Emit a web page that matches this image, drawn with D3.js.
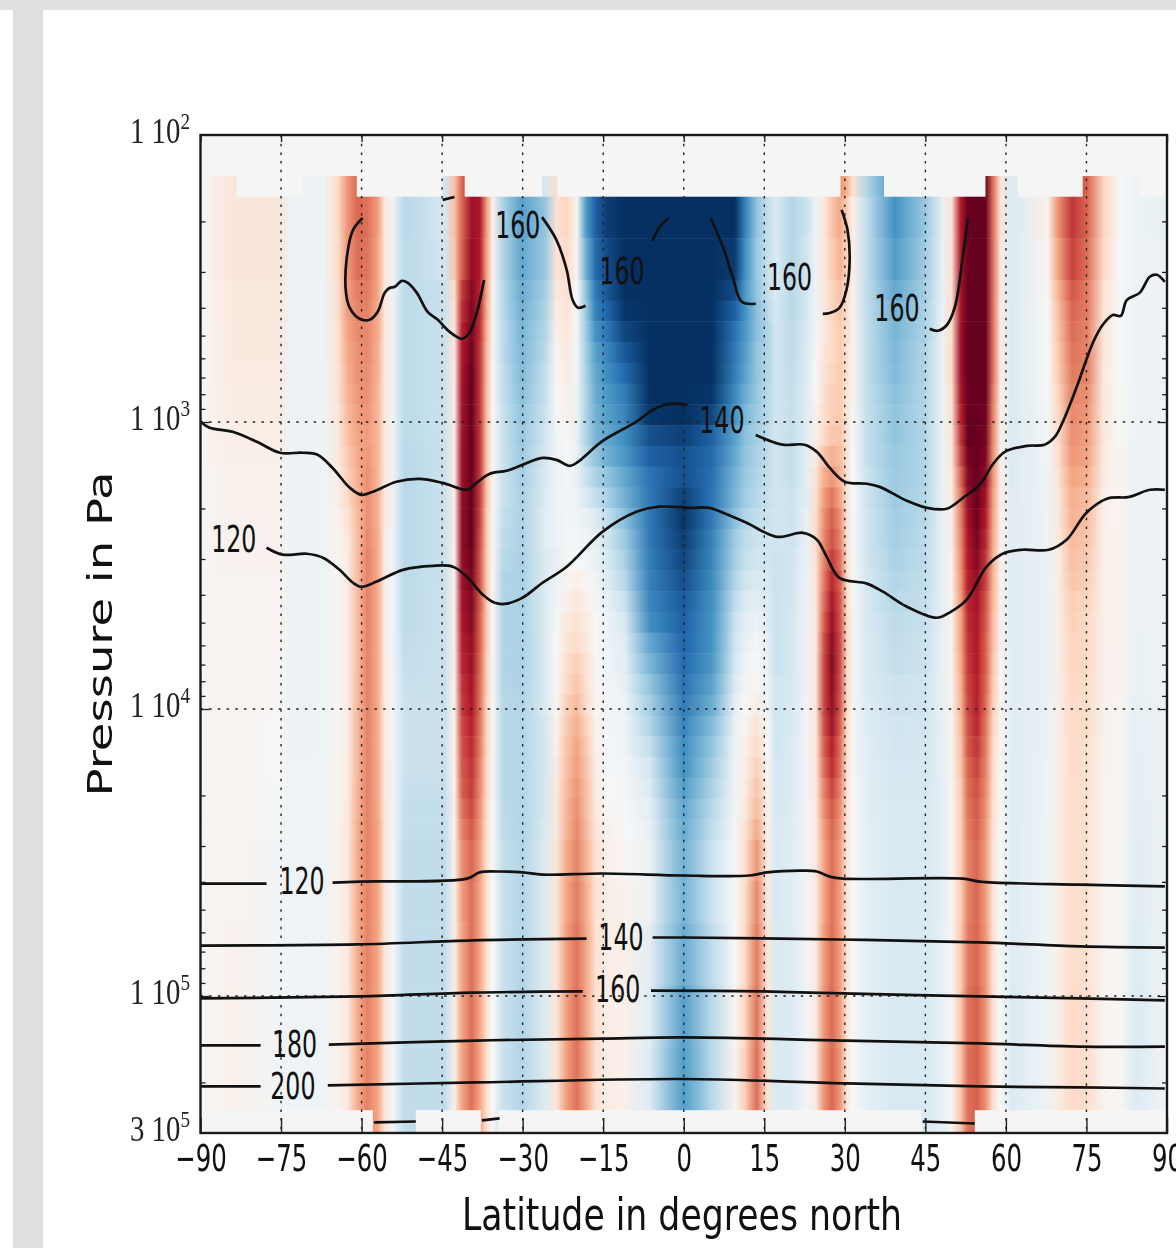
<!DOCTYPE html>
<html>
<head>
<meta charset="utf-8">
<script src="https://cdn.jsdelivr.net/npm/d3@7"></script>
<style>
  body { margin: 0; background: #fff; overflow: hidden; }
  svg { display: block; filter: blur(0.7px); }
  .sans { font-family: "DejaVu Sans", sans-serif; fill: #111; }
  .serif { font-family: "Liberation Serif", serif; fill: #222; }
</style>
</head>
<body>
<div id="chart"></div>
<script>
// latitude of each value in a row, degrees north
var heatLats = [-90,-87.9,-83.6,-75.6,-73,-66.9,-64.4,-62.6,-60.7,-58.9,-57,-55.7,-54.2,-52,-44.5,-42.7,-41.3,-39.5,-38,-36.7,-35.6,-33.7,-30.2,
  -25.9,-23.7,-21.8,-19.9,-18.1,-16.4,-14.3,-11,-6.3,0,5.2,9.5,11.4,13.6,15.6,17.1,
  20.1,22.9,24.6,26.1,27.6,29.1,30.4,31.5,34.1,39.3,44.9,48.2,49.9,51.6,52.9,54.6,56.2,57.6,59,61.1,67.8,69.7,72.3,75.2,78.2,81.2,84,90];

// log10 of pressure at the edges of the rows
var heatEdges = [2.143,2.215,2.360,2.505,2.577,2.649,2.721,2.794,2.866,2.938,3.011,3.083,3.155,3.228,3.300,3.372,3.444,3.517,3.589,3.661,3.734,3.806,3.878,3.950,4.023,4.095,4.167,4.240,4.312,4.384,4.456,4.601,4.746,4.962,5.179,5.396,5.477];

// zonal wind anomaly, -100 to 100, one row per pressure band
var heatRows = [
[0,6,12,12,-6,-5,20,45,58,55,42,12,-5,-28,-18,30,58,85,82,42,5,-32,-55, -18,18,22,2,-58,-82,-95,-100,-100,-100,-100,-100,-68,-40,-25,-15, -30,-22,-5,10,28,45,35,15,-30,-60,-38,-8,15,80,100,100,100,55,12,-15,5,45,72,58,22,0,-6,-8],
[0,6,12,12,-6,-5,20,45,58,55,42,12,-5,-28,-18,30,58,85,82,42,5,-32,-55, -40,15,22,2,-58,-82,-95,-100,-100,-100,-100,-100,-68,-40,-25,-15, -30,-22,-5,10,28,38,25,5,-25,-60,-38,-8,15,80,100,100,100,55,12,-15,5,45,72,58,22,0,-6,-8],
[0,6,12,12,-6,-5,20,44,56,54,40,12,-5,-27,-20,28,60,88,80,40,4,-30,-52, -38,14,20,2,-50,-78,-90,-100,-100,-100,-100,-96,-62,-38,-24,-14, -30,-20,-5,10,25,35,22,5,-25,-56,-36,-8,15,82,100,100,100,55,10,-15,3,40,68,55,20,0,-6,-7],
[0,5,11,11,-6,-5,18,42,52,52,40,12,-5,-27,-22,20,70,92,78,38,3,-28,-50, -35,10,16,0,-42,-72,-85,-100,-100,-100,-100,-90,-58,-40,-25,-16, -28,-18,-4,10,22,30,20,4,-25,-52,-34,-7,16,84,100,100,100,55,10,-15,2,34,62,52,16,0,-6,-6],
[0,5,11,11,-6,-5,18,42,50,50,38,12,-5,-27,-22,16,74,94,76,36,2,-28,-48, -32,8,14,0,-40,-68,-80,-98,-100,-100,-100,-82,-60,-42,-28,-18, -28,-18,-4,10,22,28,18,4,-25,-48,-32,-7,18,84,100,100,100,55,8,-15,1,30,58,52,14,0,-6,-5],
[0,5,10,10,-6,-5,16,40,48,48,38,12,-5,-27,-22,14,78,96,74,34,2,-26,-46, -30,5,12,-2,-38,-60,-72,-92,-100,-100,-100,-75,-58,-42,-30,-20, -26,-16,-3,10,20,26,18,3,-25,-46,-32,-6,18,85,100,100,100,55,8,-15,0,28,56,50,12,0,-6,-5],
[0,5,10,10,-6,-5,16,38,46,48,36,12,-5,-27,-22,12,80,98,72,32,2,-26,-45, -28,3,10,-2,-36,-55,-66,-85,-100,-100,-100,-72,-56,-40,-30,-20, -26,-15,-2,12,20,26,16,3,-25,-45,-30,-6,20,85,100,100,100,55,8,-15,0,26,54,50,12,0,-6,-5],
[0,5,9,9,-6,-5,14,36,46,46,36,12,-5,-27,-22,10,82,100,72,32,2,-24,-44, -25,2,8,-4,-34,-52,-62,-78,-100,-100,-100,-70,-54,-40,-30,-20, -25,-14,0,14,22,26,16,2,-25,-44,-30,-6,20,85,100,100,100,55,8,-15,0,25,52,50,10,0,-6,-5],
[0,4,8,8,-6,-5,14,34,44,46,34,10,-5,-27,-22,10,84,100,72,30,2,-24,-42, -24,0,6,-5,-32,-50,-58,-70,-100,-100,-98,-65,-50,-38,-28,-20, -24,-13,2,16,24,26,14,2,-24,-42,-30,-6,18,82,100,100,100,52,6,-14,-1,22,50,46,10,1,-6,-5],
[0,4,8,8,-6,-5,12,32,42,44,34,10,-5,-27,-22,8,84,100,72,30,1,-22,-40, -22,-2,4,-6,-32,-48,-55,-66,-98,-100,-92,-60,-46,-36,-28,-20, -24,-12,4,18,24,26,14,1,-24,-40,-30,-6,16,78,100,100,98,50,6,-14,-2,20,48,44,10,1,-6,-5],
[0,4,7,7,-6,-5,10,30,40,42,34,10,-5,-27,-22,8,84,100,72,28,1,-22,-38, -20,-4,2,-8,-32,-46,-52,-62,-88,-94,-82,-55,-42,-34,-26,-20, -24,-12,6,20,28,28,14,1,-24,-40,-30,-6,14,72,100,100,96,48,6,-14,-2,18,46,42,10,1,-6,-5],
[0,4,6,6,-6,-5,10,26,38,44,34,10,-4,-28,-22,8,86,100,72,28,1,-22,-36, -18,-5,0,-8,-28,-40,-48,-58,-82,-88,-78,-52,-40,-32,-26,-20, -24,-11,10,28,36,32,14,0,-24,-38,-30,-7,12,66,96,100,94,46,6,-14,-3,16,44,40,8,2,-6,-5],
[0,3,5,5,-6,-5,8,24,36,46,34,10,-4,-28,-22,8,86,100,72,28,1,-22,-34, -16,-6,-2,-8,-22,-32,-40,-52,-74,-88,-76,-48,-38,-30,-25,-20, -24,-10,14,36,44,34,14,0,-22,-37,-30,-7,10,58,92,100,90,44,5,-13,-4,14,40,36,8,2,-6,-5],
[0,3,5,5,-6,-5,6,20,34,46,36,10,-4,-28,-22,8,88,100,70,28,1,-22,-32, -14,-5,-3,-6,-16,-24,-32,-48,-72,-94,-74,-46,-35,-28,-24,-20, -22,-10,16,42,54,40,14,0,-21,-36,-29,-8,9,52,88,100,84,42,5,-12,-5,11,36,32,6,2,-6,-5],
[0,3,4,4,-6,-5,4,14,32,46,36,10,-4,-28,-22,8,88,100,68,26,1,-24,-32, -12,-5,-2,-4,-8,-14,-24,-42,-72,-98,-72,-42,-30,-25,-22,-20, -22,-8,18,46,60,46,15,-1,-20,-35,-28,-8,8,50,85,98,80,40,5,-12,-6,10,35,30,6,2,-6,-5],
[0,3,4,4,-6,-5,3,10,32,48,38,8,-4,-28,-22,8,88,100,66,26,1,-26,-32, -12,-6,-2,-2,-5,-10,-20,-36,-72,-95,-68,-36,-26,-22,-20,-20, -21,-8,18,48,64,50,16,-2,-20,-34,-27,-8,7,48,82,95,76,38,5,-12,-6,9,32,28,6,3,-6,-5],
[0,3,4,4,-6,-5,3,8,32,50,38,8,-4,-28,-22,6,88,98,64,26,1,-28,-32, -14,-8,-2,0,-3,-8,-16,-32,-70,-92,-66,-34,-24,-20,-20,-22, -20,-7,16,50,70,55,17,-2,-19,-32,-26,-8,6,46,80,92,72,36,5,-12,-7,8,30,26,6,3,-6,-5],
[0,3,3,3,-6,-5,2,8,32,50,38,8,-4,-27,-22,6,86,96,64,26,1,-30,-32, -14,-6,2,6,2,-4,-12,-28,-68,-88,-64,-30,-20,-15,-16,-22, -20,-6,14,52,76,60,18,-2,-18,-30,-25,-8,6,44,78,88,68,34,4,-12,-7,7,28,24,6,3,-6,-6],
[0,3,3,3,-6,-5,2,8,32,50,38,8,-4,-26,-22,6,84,94,62,26,1,-30,-32, -14,-4,6,12,5,-2,-8,-22,-66,-84,-62,-26,-15,-10,-14,-22, -19,-5,13,56,82,62,19,-2,-17,-28,-24,-8,5,42,76,84,64,32,4,-12,-8,7,25,22,6,3,-6,-6],
[0,3,3,3,-6,-5,2,8,32,50,38,8,-4,-26,-22,6,82,92,60,26,1,-30,-32, -14,-2,10,16,8,0,-6,-16,-62,-82,-60,-22,-10,-6,-12,-22, -18,-5,12,60,86,64,20,-2,-16,-26,-23,-8,5,40,74,82,62,30,4,-12,-8,6,24,20,6,3,-6,-6],
[0,3,3,3,-6,-5,2,8,32,50,38,8,-4,-25,-22,6,78,88,60,26,1,-30,-32, -15,0,14,18,10,0,-5,-12,-52,-80,-60,-20,-8,-2,-10,-22, -18,-4,12,64,90,66,20,-2,-15,-25,-22,-8,5,40,72,80,60,30,4,-12,-8,6,22,20,6,3,-7,-6],
[0,3,3,2,-6,-5,2,8,32,50,38,8,-4,-24,-22,6,76,86,58,24,1,-30,-32, -16,0,18,24,14,2,-4,-10,-46,-78,-58,-18,-6,0,-8,-22, -18,-4,12,66,92,66,20,-2,-15,-24,-22,-8,5,38,70,80,60,28,3,-12,-8,6,22,20,5,3,-7,-6],
[-1,3,3,1,-6,-5,2,8,33,50,38,8,-3,-23,-22,6,72,84,56,24,1,-29,-31, -16,2,20,28,16,2,-3,-8,-40,-74,-54,-14,-3,3,-6,-20, -17,-4,12,66,90,64,20,-2,-14,-22,-20,-8,4,36,68,78,58,26,3,-12,-8,6,21,19,5,3,-7,-6],
[-1,3,3,1,-6,-5,2,8,33,50,38,9,-3,-22,-22,6,70,82,55,22,1,-28,-30, -16,2,24,32,18,3,-2,-6,-34,-70,-50,-10,0,8,-5,-20, -16,-4,12,66,88,62,20,-2,-13,-21,-20,-8,4,34,66,78,56,24,3,-12,-7,6,20,18,5,2,-8,-6],
[-1,3,3,0,-6,-5,2,8,34,50,38,9,-3,-22,-22,6,66,78,54,22,1,-28,-30, -18,4,26,36,22,4,-2,-5,-30,-66,-44,-8,2,14,-2,-20, -16,-4,12,64,84,60,18,-1,-13,-20,-19,-9,3,32,64,76,54,22,2,-12,-7,6,20,18,4,2,-9,-6],
[-1,3,3,0,-6,-5,2,8,34,50,38,9,-3,-22,-22,6,64,75,52,22,1,-28,-30, -18,6,28,40,26,5,-2,-4,-24,-62,-40,-6,4,20,0,-20, -15,-3,12,60,78,56,17,-1,-12,-19,-18,-9,3,30,62,72,52,20,2,-12,-7,6,19,17,4,2,-9,-6],
[-1,3,3,0,-5,-5,3,8,34,50,38,10,-3,-22,-22,6,62,72,50,20,1,-28,-30, -18,8,30,42,28,6,-1,-3,-18,-60,-36,-5,6,24,2,-18, -14,-3,11,56,74,54,16,-1,-12,-18,-18,-9,3,28,58,68,50,18,1,-12,-6,6,19,16,4,2,-10,-6],
[-1,3,3,-1,-5,-5,3,9,35,50,38,10,-3,-23,-23,6,60,70,48,20,1,-28,-30, -18,10,32,44,30,8,0,-2,-14,-56,-32,-4,8,28,3,-18, -14,-3,11,50,68,50,15,-1,-11,-17,-17,-10,2,26,56,64,48,17,1,-12,-6,6,18,16,3,1,-10,-6],
[-2,3,3,-2,-5,-4,3,9,36,50,39,11,-2,-24,-24,6,54,66,46,18,1,-27,-30, -18,10,34,46,30,10,2,-1,-10,-52,-28,-3,10,32,5,-18, -13,-3,10,46,62,46,14,0,-11,-16,-16,-10,2,25,54,62,46,16,1,-12,-6,6,18,15,3,1,-11,-6],
[-2,3,3,-2,-5,-4,4,10,37,50,40,12,-2,-24,-24,6,50,62,44,17,0,-26,-30, -16,10,35,48,32,12,4,0,-8,-50,-25,-2,14,38,6,-16, -13,-3,10,42,58,44,13,0,-10,-16,-16,-10,2,25,52,60,44,15,0,-12,-5,6,18,15,3,1,-11,-6],
[-2,2,3,-3,-5,-4,4,10,38,50,40,12,-2,-25,-25,6,46,58,42,16,0,-24,-30, -14,12,38,50,34,14,6,2,-6,-48,-22,-1,16,44,8,-16, -12,-3,10,40,56,42,12,0,-10,-16,-16,-10,2,25,50,58,42,15,0,-12,-5,6,18,15,3,1,-12,-6],
[-2,2,3,-3,-5,-4,4,10,38,50,40,12,-2,-25,-25,6,42,56,40,15,0,-22,-30, -14,12,40,52,36,15,8,4,-6,-47,-22,0,18,48,10,-16, -12,-3,10,40,55,42,12,0,-10,-16,-16,-10,2,25,50,58,42,15,0,-12,-5,6,18,15,3,1,-12,-6],
[-2,2,4,-3,-5,-4,4,10,38,50,40,12,-2,-25,-25,6,40,56,40,15,0,-22,-30, -14,12,42,54,38,15,8,5,-10,-50,-26,0,20,52,12,-16, -13,-3,10,42,56,42,12,0,-10,-16,-16,-9,2,26,52,58,44,15,0,-13,-5,6,18,15,3,1,-13,-6],
[-2,2,5,-3,-5,-4,4,10,38,50,40,12,-2,-25,-25,6,40,56,40,15,0,-22,-30, -14,12,42,55,38,15,8,5,-12,-55,-28,2,22,54,12,-15, -14,-3,10,44,57,43,12,0,-10,-16,-16,-9,2,27,54,60,45,16,0,-14,-5,6,20,17,3,1,-14,-5],
[-2,2,5,-3,-5,-4,4,10,38,50,40,12,-2,-25,-25,6,40,56,40,15,0,-22,-30, -14,12,42,55,38,15,8,5,-14,-56,-28,3,24,56,14,-15, -14,-3,10,45,58,44,12,0,-10,-16,-16,-9,2,28,55,60,46,16,0,-14,-5,8,20,18,3,1,-14,-4],
[-2,2,5,-3,-5,-4,4,10,38,50,40,12,-2,-25,-25,6,40,56,40,15,0,-22,-30, -14,12,42,55,38,15,8,5,-14,-56,-28,3,24,56,14,-15, -14,-3,10,45,58,44,12,0,-10,-16,-16,-9,2,28,55,60,46,16,0,-14,-5,8,20,18,3,1,-14,-4]
];

// where the top and bottom bands actually hold values
var topFilled = [[-88.8,-83.3],[-71,-60.9],[-44.9,-40.8],[-26.3,-23.5],[29.2,37.3],[56.2,62.2],[74.3,84.9]];
var bottomFilled = [[-57.9,-49.9],[-37.8,-34.5],[44.3,54.2]];

var rdbu = ["#053061","#2166ac","#4393c3","#92c5de","#d1e5f0","#f7f7f7","#fddbc7","#f4a582","#d6604d","#b2182b","#67001f"];
var rdbuStops = [-100,-80,-60,-40,-20,0,20,40,60,80,100];

var latTicks = [-90,-75,-60,-45,-30,-15,0,15,30,45,60,75,90];
var pressureTicks = [100,1000,10000,100000,300000];
var tickMantissa = ["1","1","1","1","3"];
var tickExponent = ["2","3","4","5","5"];
var minorTicks = [200,300,400,500,600,700,800,900,2000,3000,4000,5000,6000,7000,8000,9000,20000,30000,40000,50000,60000,70000,80000,90000,200000];
var gridPressures = [1000,10000,100000];

// temperature contours, [latitude, log10 pressure]
var contours = [
  [[-59.8,2.289],[-61.6,2.331],[-62.8,2.435],[-62.9,2.550],[-62.2,2.602],[-60.3,2.641],[-58.5,2.644],[-57,2.616],[-55.7,2.550],[-54.8,2.533],[-53.8,2.529],[-52.5,2.508],[-51.4,2.515],[-49.7,2.550],[-47.7,2.616],[-45.8,2.644],[-43.6,2.686],[-41.3,2.710],[-39.9,2.689],[-38.4,2.609],[-37.2,2.505]],
  [[-44.9,2.226],[-42.7,2.216]],
  [[-26.4,2.286],[-23.7,2.366],[-21.8,2.470],[-20.7,2.575],[-19.7,2.602],[-18.3,2.595]],
  [[-5.8,2.369],[-4.5,2.320],[-2.8,2.289]],
  [[5,2.289],[7.3,2.390],[9.1,2.494],[10.8,2.581],[13.4,2.588]],
  [[29.4,2.261],[30.5,2.331],[30.9,2.435],[30.3,2.540],[29,2.602],[27.2,2.620],[25.9,2.623]],
  [[52.9,2.289],[51.9,2.435],[50.5,2.599],[49,2.662],[47.3,2.682],[45.8,2.675]],
  [[-90,2.999],[-88.3,3.020],[-84,3.034],[-79.5,3.069],[-75.2,3.107],[-71,3.107],[-68.2,3.114],[-65.4,3.160],[-62.2,3.229],[-60,3.254],[-57.9,3.243],[-53.5,3.208],[-49.2,3.198],[-44.9,3.212],[-40.2,3.236],[-38.6,3.212],[-36.1,3.180],[-33,3.170],[-30,3.149],[-26.3,3.125],[-23.7,3.132],[-21.2,3.153],[-19.7,3.139],[-15.1,3.066],[-8.8,2.999],[-5.8,2.958],[-2.6,2.937],[0.7,2.940]],
  [[13.4,3.045],[18.4,3.079],[22.5,3.079],[24.8,3.104],[27.2,3.160],[30,3.208],[34.1,3.215],[36.5,3.226],[41.5,3.274],[45.3,3.299],[49,3.302],[52,3.264],[55.1,3.219],[57.5,3.149],[59.8,3.104],[63.9,3.083],[67.2,3.079],[69.1,3.052],[70.6,2.999],[73.2,2.877],[76.2,2.724],[78,2.662],[79.9,2.627],[81.4,2.630],[82.5,2.575],[84.9,2.550],[86.8,2.494],[88.1,2.487],[89.6,2.512]],
  [[-77.7,3.438],[-74.7,3.462],[-70.2,3.459],[-67.2,3.473],[-64.1,3.515],[-61.6,3.560],[-60,3.574],[-57.2,3.556],[-52.3,3.515],[-46.7,3.501],[-43,3.504],[-40.4,3.539],[-37.4,3.602],[-35.2,3.630],[-33,3.633],[-30,3.612],[-26.3,3.560],[-21.8,3.504],[-15.1,3.382],[-8.8,3.313],[-4.5,3.295],[1.1,3.299],[4.8,3.299],[7.3,3.316],[11.7,3.351],[17.3,3.400],[22.2,3.386],[24.8,3.410],[26.6,3.469],[29,3.543],[34.1,3.563],[37.1,3.591],[41.5,3.643],[47.1,3.682],[49.5,3.664],[52.7,3.619],[56.4,3.504],[59.4,3.459],[63,3.445],[68,3.445],[71.3,3.410],[75,3.316],[78.8,3.267],[83,3.261],[86.8,3.236],[89.6,3.236]],
  [[-90,4.608],[-77.7,4.608]],
  [[-65.4,4.605],[-60.3,4.601],[-40.4,4.591],[-38,4.569],[-34.8,4.566],[-30,4.569],[-26.3,4.577],[-15.1,4.573],[0,4.580],[12.3,4.580],[15.5,4.569],[22.2,4.563],[24.8,4.566],[27.2,4.584],[29.6,4.591],[52,4.591],[55.1,4.601],[73.8,4.612],[89.6,4.618]],
  [[-90,4.824],[-60.9,4.820],[-39.3,4.806],[-18.1,4.800]],
  [[-5.8,4.796],[0,4.796],[29,4.803],[55.1,4.813],[73.8,4.827],[89.6,4.831]],
  [[-90,5.008],[-60.3,5.001],[-39.3,4.988],[-18.8,4.984]],
  [[-6.1,4.981],[14.7,4.984],[29.6,4.991],[55.1,5.001],[73.8,5.008],[89.6,5.015]],
  [[-90,5.172],[-78.8,5.172]],
  [[-66.1,5.169],[-38.6,5.155],[-15.3,5.148],[0,5.144],[29.6,5.155],[55.1,5.165],[73.8,5.176],[89.6,5.176]],
  [[-90,5.315],[-78.8,5.315]],
  [[-66.3,5.311],[-38.6,5.301],[0,5.289],[29.6,5.304],[55.1,5.315],[73.8,5.318],[89.6,5.322]],
  [[-57.7,5.440],[-49.9,5.437]],
  [[-37.6,5.433],[-34.3,5.426]],
  [[44.5,5.437],[54.2,5.444]]
];

var contourLabelText = ["160","160","160","160","140","120","120","140","160","180","200"];
var contourLabelLat = [-30.9,-11.5,19.7,39.7,7.1,-83.8,-71.1,-11.7,-12.3,-72.5,-72.8];
var contourLabelLogP = [2.313,2.474,2.494,2.602,2.992,3.407,4.598,4.793,4.974,5.165,5.311];

var width = 1176, height = 1248;
var x = d3.scaleLinear().domain([-90, 90]).range([200.5, 1167]);
var y = d3.scaleLog().domain([100, 300000]).range([135, 1133]);
var color = d3.scaleLinear().domain(rdbuStops).range(rdbu).clamp(true);
var logY = function(v) { return y(Math.pow(10, v)); };

var svg = d3.select('#chart').append('svg').attr('width', width).attr('height', height);

// page furniture around the screenshot
svg.append('rect').attr('width', width).attr('height', 10).attr('fill', '#e0dfdd');
svg.append('rect').attr('x', 13).attr('width', 30).attr('height', height).attr('fill', '#e0dfdd');

svg.append('rect')
  .attr('x', x(-90)).attr('y', y(100))
  .attr('width', x(90) - x(-90)).attr('height', y(300000) - y(100))
  .attr('fill', '#f5f5f5');

// one horizontal gradient per pressure band: smooth across latitude, stepped in pressure
var defs = svg.append('defs');
var grads = defs.selectAll('linearGradient').data(heatRows).enter().append('linearGradient')
  .attr('id', function(d, i) { return 'heat-' + i; })
  .attr('gradientUnits', 'userSpaceOnUse')
  .attr('x1', x(-90)).attr('x2', x(90)).attr('y1', 0).attr('y2', 0);
grads.selectAll('stop').data(function(d) { return d; }).enter().append('stop')
  .attr('offset', function(d, i) { return (heatLats[i] + 90) / 180; })
  .attr('stop-color', function(d) { return color(d); });

var heat = svg.append('g');
heatRows.forEach(function(row, i) {
  var spans = i === 0 ? topFilled : (i === heatRows.length - 1 ? bottomFilled : [[-90, 90]]);
  spans.forEach(function(s) {
    heat.append('rect')
      .attr('x', x(s[0])).attr('width', x(s[1]) - x(s[0]))
      .attr('y', logY(heatEdges[i])).attr('height', logY(heatEdges[i + 1]) - logY(heatEdges[i]) + 0.5)
      .attr('fill', 'url(#heat-' + i + ')');
  });
});

// dotted grid
svg.append('g').selectAll('line').data(latTicks.slice(1, -1)).enter().append('line')
  .attr('x1', x).attr('x2', x).attr('y1', y(100)).attr('y2', y(300000))
  .attr('stroke', '#222').attr('stroke-width', 1.4).attr('stroke-dasharray', '2.5,6.2');
svg.append('g').selectAll('line').data(gridPressures).enter().append('line')
  .attr('x1', x(-90)).attr('x2', x(90)).attr('y1', y).attr('y2', y)
  .attr('stroke', '#222').attr('stroke-width', 1.4).attr('stroke-dasharray', '2.5,6.2');

// contours
var line = d3.line()
  .x(function(d) { return x(d[0]); })
  .y(function(d) { return logY(d[1]); })
  .curve(d3.curveCatmullRom.alpha(0.5));
svg.append('g').selectAll('path').data(contours).enter().append('path')
  .attr('d', line).attr('fill', 'none')
  .attr('stroke', '#111').attr('stroke-width', 2.7);

var squeezed = 'scale(0.64,1)';
svg.append('g').selectAll('text').data(contourLabelText).enter().append('text')
  .attr('class', 'sans')
  .attr('transform', function(d, i) {
    return 'translate(' + x(contourLabelLat[i]) + ',' + logY(contourLabelLogP[i]) + ') ' + squeezed;
  })
  .attr('text-anchor', 'middle').attr('dy', '0.36em').attr('font-size', 37)
  .text(function(d) { return d; });

// axes
var xAxis = d3.axisBottom(x).tickValues(latTicks).tickSize(0).tickPadding(0)
  .tickFormat(function(d) { return d < 0 ? '\u2212' + (-d) : '' + d; });
var xg = svg.append('g').attr('transform', 'translate(0,' + y(300000) + ')').call(xAxis);
xg.select('.domain').remove();
xg.selectAll('text').attr('class', 'sans').attr('font-size', 37).attr('y', 12).attr('dy', '0.71em')
  .attr('fill', null).attr('transform', 'scale(0.66,1)').attr('font-family', null);
// the scale squeezes about the tick origin, so it stays centred on the tick

svg.append('g').attr('transform', 'translate(0,' + y(300000) + ')')
  .call(d3.axisBottom(x).tickValues(latTicks).tickSize(-15).tickFormat(''))
  .call(function(g) { g.select('.domain').remove(); g.selectAll('line').attr('stroke', '#222').attr('stroke-width', 1.4); });
svg.append('g').attr('transform', 'translate(0,' + y(100) + ')')
  .call(d3.axisTop(x).tickValues(latTicks).tickSize(-7).tickFormat(''))
  .call(function(g) { g.select('.domain').remove(); g.selectAll('line').attr('stroke', '#222').attr('stroke-width', 1.4); });

[[x(-90), 1], [x(90), -1]].forEach(function(side) {
  var axis = side[1] > 0 ? d3.axisLeft(y) : d3.axisRight(y);
  svg.append('g').attr('transform', 'translate(' + side[0] + ',0)')
    .call(axis.tickValues(minorTicks).tickSize(-5).tickFormat(''))
    .call(function(g) { g.select('.domain').remove(); g.selectAll('line').attr('stroke', '#222').attr('stroke-width', 1.3); });
  svg.append('g').attr('transform', 'translate(' + side[0] + ',0)')
    .call(axis.tickValues(gridPressures).tickSize(-9).tickFormat(''))
    .call(function(g) { g.select('.domain').remove(); g.selectAll('line').attr('stroke', '#222').attr('stroke-width', 1.3); });
});

// log tick labels in the "1 10^n" form of the original
var ylab = svg.append('g').selectAll('g').data(pressureTicks).enter().append('g')
  .attr('transform', function(d) { return 'translate(190,' + (y(d) + 8) + ') scale(0.8,1)'; });
var ylabText = ylab.append('text').attr('class', 'serif').attr('text-anchor', 'end').attr('font-size', 36);
ylabText.append('tspan').text(function(d, i) { return tickMantissa[i] + ' 10'; });
ylabText.append('tspan').attr('font-size', 24).attr('dy', -14).text(function(d, i) { return tickExponent[i]; });

svg.append('rect')
  .attr('x', x(-90)).attr('y', y(100))
  .attr('width', x(90) - x(-90)).attr('height', y(300000) - y(100))
  .attr('fill', 'none').attr('stroke', '#1a1a1a').attr('stroke-width', 2.4);

// axis titles
svg.append('text').attr('class', 'sans').attr('x', 682).attr('y', 1230)
  .attr('text-anchor', 'middle').attr('font-size', 45)
  .attr('textLength', 440).attr('lengthAdjust', 'spacingAndGlyphs')
  .text('Latitude in degrees north');
svg.append('text').attr('class', 'sans')
  .attr('transform', 'translate(112,634) rotate(-90)')
  .attr('text-anchor', 'middle').attr('font-size', 34)
  .attr('textLength', 325).attr('lengthAdjust', 'spacingAndGlyphs')
  .text('Pressure in Pa');
</script>
</body>
</html>
